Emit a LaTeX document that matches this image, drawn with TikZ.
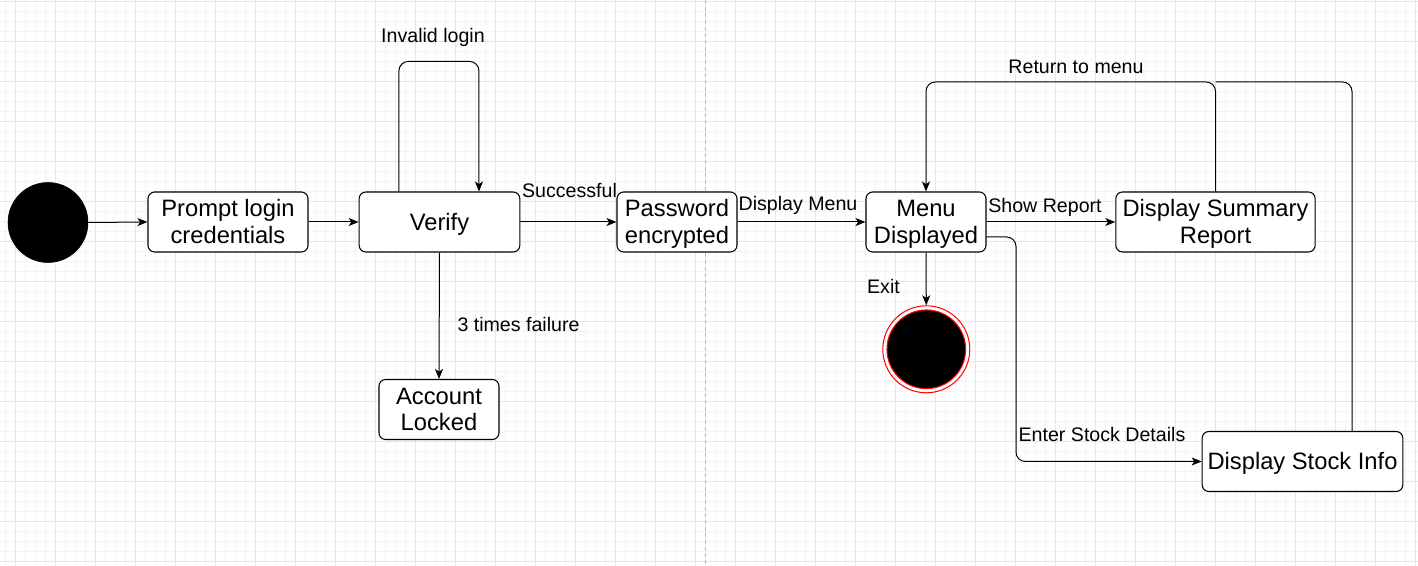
\documentclass[tikz,border=0pt]{standalone}
\usepackage{fontspec}
\setmainfont{Liberation Sans}
\usetikzlibrary{arrows.meta,calc}
\definecolor{gridmaj}{HTML}{E6E6E6}
\definecolor{gridmin}{HTML}{F4F4F4}
\definecolor{sepgray}{HTML}{B8B8B8}
\newcommand\twol[2]{\begin{tabular}{@{}c@{}}\rule{0pt}{18pt}#1\\#2\end{tabular}}
\begin{document}
\begin{tikzpicture}[x=0.75pt,y=-0.75pt,
  state/.style={draw=black,line width=0.8pt,rounded corners=5pt,fill=white,align=center,
    font=\fontsize{17.8pt}{20pt}\selectfont,minimum height=45pt,inner sep=0pt},
  state1/.style={state,execute at begin node={\rule{0pt}{16pt}}},
  lbl/.style={font=\fontsize{14.7pt}{17pt}\selectfont,inner sep=0pt},
  conn/.style={line width=0.75pt,-{Stealth[length=7.5pt,width=6pt,inset=2pt]}},
  plain/.style={line width=0.75pt},
  ]
\useasboundingbox (0,0) rectangle (1418,566);
\fill[white] (0,0) rectangle (1418,566);
% grid
\foreach \i in {0,...,141} \draw[gridmin,line width=0.6pt] (5.3+10*\i,0) -- (5.3+10*\i,566);
\foreach \i in {0,...,56} \draw[gridmin,line width=0.6pt] (0,1.7+10*\i) -- (1418,1.7+10*\i);
\foreach \i in {0,...,35} \draw[gridmaj,line width=0.75pt] (15.3+40*\i,0) -- (15.3+40*\i,566);
\foreach \i in {0,...,14} \draw[gridmaj,line width=0.75pt] (0,1.7+40*\i) -- (1418,1.7+40*\i);
% separator
\draw[sepgray,line width=0.6pt,dash pattern=on 3pt off 2pt] (705.7,0) -- (705.7,566);

% nodes
\node[circle,fill=black,draw=black,minimum size=60pt,inner sep=0pt] (start) at (48,222.5) {};
\node[state,minimum width=120pt] (prompt) at (228,222) {\twol{Prompt login}{credentials}};
\node[state1,minimum width=120.5pt] (verify) at (439.5,222) {Verify};
\node[state,minimum width=90pt] (pwd) at (677,222) {\twol{Password}{encrypted}};
\node[state,minimum width=90pt] (menu) at (926,222) {\twol{Menu}{Displayed}};
\node[state,minimum width=149.5pt] (summary) at (1215.5,222) {\twol{Display Summary}{Report}};
\node[state1,minimum width=150.5pt] (stock) at (1302.5,461.5) {Display Stock Info};
\node[state,minimum width=90pt] (locked) at (439,409.5) {\twol{Account}{Locked}};
\node[circle,draw=red,line width=0.75pt,minimum size=65.25pt,inner sep=0pt] (endo) at (926.3,349.3) {};
\node[circle,fill=black,draw=red,line width=0.75pt,minimum size=59pt,inner sep=0pt] (endi) at (926.3,349.3) {};

% labels
\node[lbl] (linv) at (433,37.5) {Invalid login};
\node[lbl] (lsucc) at (569.5,190.5) {Successful};
\node[lbl] (ldm) at (798,205.5) {Display Menu};
\node[lbl] (lsr) at (1045,207.5) {Show Report};
\node[lbl] (lexit) at (883.5,286.5) {Exit};
\node[lbl] (l3) at (518.5,324.5) {3 times failure};
\node[lbl] (lret) at (1076,66.5) {Return to menu};
\node[lbl] (lesd) at (1102,434.5) {Enter Stock Details};

% helper coordinates
\coordinate (rt) at (0,82);
\coordinate (mx) at (1016,0);
\coordinate (sx) at (1352,0);

% connectors
\draw[conn] (start.east) -- (prompt.west);
\draw[conn] (prompt.east) -- (verify.west);
\draw[conn,rounded corners=7pt] ([xshift=-30.4pt]verify.north) -- ++(0,-130) -| ([xshift=29.6pt]verify.north);
\draw[conn] (verify.east) -- (pwd.west);
\draw[conn] (verify.south) -- (locked.north);
\draw[conn] (pwd.east) -- (menu.west);
\draw[conn] (menu.east) -- (summary.west);
\draw[conn] (menu.south) -- (endo.north);
\draw[conn,rounded corners=7pt] (summary.north) -- (summary.north |- rt) -- (menu.north |- rt) -- (menu.north);
\draw[plain,rounded corners=7pt] (sx |- stock.north) -- (sx |- rt) -- (summary.north |- rt);
\draw[conn,rounded corners=7pt] ([yshift=-11.25pt]menu.east) -| (mx |- stock.west) -- (stock.west);
\end{tikzpicture}
\end{document}
